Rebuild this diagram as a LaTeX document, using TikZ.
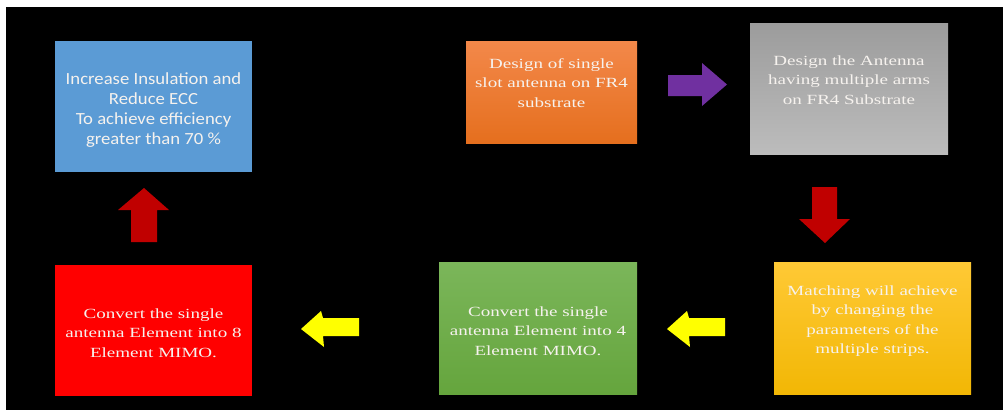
\documentclass[tikz,border=0pt]{standalone}
\usepackage{fontspec}
\setmainfont{Liberation Serif}
\newfontfamily\wideserif[FakeStretch=1.36]{Liberation Serif}
\newfontfamily\widesans[FakeStretch=1.1]{Carlito}
\definecolor{boxblue}{HTML}{5B9BD5}
\definecolor{orangetop}{HTML}{F3884A}
\definecolor{orangebot}{HTML}{E56F1E}
\definecolor{graytop}{HTML}{9C9C9C}
\definecolor{graybot}{HTML}{BCBCBC}
\definecolor{greentop}{HTML}{7BB65A}
\definecolor{greenbot}{HTML}{65A53D}
\definecolor{goldtop}{HTML}{FFC935}
\definecolor{goldbot}{HTML}{F2B705}
\definecolor{boxred}{HTML}{FF0000}
\definecolor{arrowpurple}{HTML}{7030A0}
\definecolor{arrowred}{HTML}{C00000}
\definecolor{arrowyellow}{HTML}{FFFF00}
\definecolor{txtwhite}{HTML}{F6F2EE}
\begin{document}
\begin{tikzpicture}[x=1pt,y=-1pt,
  box/.style={rectangle, draw=none, inner sep=0pt},
  serift/.style={text=txtwhite, font=\wideserif\fontsize{14}{19.5}\selectfont, align=center, inner sep=0pt},
  sanst/.style={text=txtwhite, font=\widesans\fontsize{17}{20}\selectfont, align=center, inner sep=0pt},
  blockarrow/.style={draw=none}
]
\useasboundingbox (0,0) rectangle (1003,410);
\fill[white] (0,0) rectangle (1003,410);
\fill[black] (6,7) rectangle (1003,410);

% boxes
\node[box, fill=boxblue, minimum width=197pt, minimum height=131pt] (blue) at (153.5,106.5) {};
\node[box, top color=orangetop, bottom color=orangebot, minimum width=171pt, minimum height=102pt] (orange) at (551.5,92) {};
\node[box, top color=graytop, bottom color=graybot, minimum width=198pt, minimum height=131pt] (gray) at (849,88.5) {};
\node[box, top color=goldtop, bottom color=goldbot, minimum width=197pt, minimum height=132pt] (gold) at (872.5,328) {};
\node[box, top color=greentop, bottom color=greenbot, minimum width=198pt, minimum height=132pt] (green) at (538,328) {};
\node[box, fill=boxred, minimum width=197pt, minimum height=131pt] (red) at (153.5,330.5) {};

% texts
\node[sanst] (tblue) at (153.5,110) {Increase Insulation and\\Reduce ECC\\To achieve efficiency\\greater than 70 \%};
\node[serift, anchor=north] (torange) at (551.5,58.4) {Design of single\\slot antenna on FR4\\substrate};
\node[serift, anchor=north] (tgray) at (849,55.4) {Design the Antenna\\having multiple arms\\on FR4 Substrate};
\node[serift, anchor=north] (tgold) at (872.5,285.4) {Matching will achieve\\by changing the\\parameters of the\\multiple strips.};
\node[serift] (tgreen) at (538,331) {Convert the single\\antenna Element into 4\\Element MIMO.};
\node[serift] (tred) at (153.5,333) {Convert the single\\antenna Element into 8\\Element MIMO.};

% block arrows
\fill[arrowpurple] (668,75) -- (702,75) -- (702,63) -- (727,84.5) -- (702,106) -- (702,96) -- (668,96) -- cycle;
\fill[arrowred] (812,187) -- (837,187) -- (837,219) -- (850,219) -- (825,243) -- (799,219) -- (812,219) -- cycle;
\fill[arrowred] (131,242) -- (157,242) -- (157,210) -- (169,210) -- (144,188) -- (118,210) -- (131,210) -- cycle;
\fill[arrowyellow] (359,318) -- (323,318) -- (321,311) -- (301,329) -- (324,347) -- (323,336) -- (359,336) -- cycle;
\fill[arrowyellow, xshift=366pt] (359,318) -- (323,318) -- (321,311) -- (301,329) -- (324,347) -- (323,336) -- (359,336) -- cycle;
\end{tikzpicture}
\end{document}
